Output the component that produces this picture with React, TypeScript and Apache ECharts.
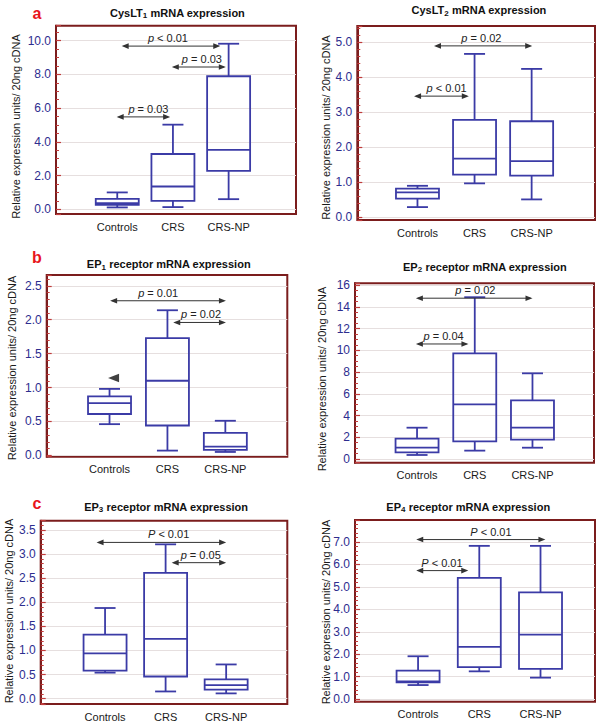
import React, { useEffect, useRef } from 'react';
import * as echarts from 'echarts';

// ---------- data ----------
const groups = ['Controls', 'CRS', 'CRS-NP'];
const yAxisName = 'Relative expression units/ 20ng cDNA';

// box statistics per group: [min, Q1, median, Q3, max]
const cysLT1Stats = [
  [0.11, 0.27, 0.37, 0.62, 1.0],
  [0.13, 0.5, 1.35, 3.28, 5.02],
  [0.6, 2.28, 3.52, 7.89, 9.82],
];
const cysLT2Stats = [
  [0.28, 0.52, 0.7, 0.81, 0.89],
  [0.96, 1.21, 1.67, 2.78, 4.67],
  [0.5, 1.18, 1.6, 2.74, 4.24],
];
const ep1Stats = [
  [0.46, 0.61, 0.77, 0.87, 0.98],
  [0.07, 0.44, 1.1, 1.73, 2.14],
  [0.05, 0.08, 0.13, 0.33, 0.51],
];
const ep2Stats = [
  [0.37, 0.61, 1.04, 1.87, 2.88],
  [0.77, 1.63, 5.03, 9.72, 14.88],
  [1.04, 1.78, 2.88, 5.4, 7.88],
];
const ep3Stats = [
  [0.54, 0.58, 0.94, 1.33, 1.88],
  [0.15, 0.46, 1.24, 2.61, 3.2],
  [0.11, 0.19, 0.28, 0.4, 0.71],
];
const ep4Stats = [
  [0.63, 0.75, 0.79, 1.27, 1.91],
  [1.24, 1.43, 2.33, 5.4, 6.82],
  [0.96, 1.35, 2.87, 4.75, 6.82],
];

// significance brackets: [fromX, toX, y, labelX, pSymbol, rest]
const cysLT1Brackets: [number, number, number, number, string, string][] = [
  [0.08, 1.85, 9.68, 0.91, 'p', ' < 0.01'],
  [0.98, 1.95, 8.44, 1.52, 'p', ' = 0.03'],
  [-0.01, 0.95, 5.48, 0.56, 'p', ' = 0.03'],
];
const cysLT2Brackets: [number, number, number, number, string, string][] = [
  [0.29, 2.01, 4.9, 1.12, 'p', ' = 0.02'],
  [-0.06, 0.9, 3.46, 0.51, 'p', ' < 0.01'],
];
const ep1Brackets: [number, number, number, number, string, string][] = [
  [0.01, 2.01, 2.28, 0.84, 'p', ' = 0.01'],
  [1.1, 2.01, 1.96, 1.58, 'p', ' = 0.02'],
];
const ep2Brackets: [number, number, number, number, string, string][] = [
  [-0.02, 2.0, 14.79, 1.01, 'p', ' = 0.02'],
  [-0.02, 0.89, 10.58, 0.46, 'p', ' = 0.04'],
];
const ep3Brackets: [number, number, number, number, string, string][] = [
  [-0.14, 2.0, 3.24, 1.05, 'P', ' < 0.01'],
  [1.1, 2.0, 2.82, 1.58, 'p', ' = 0.05'],
];
const ep4Brackets: [number, number, number, number, string, string][] = [
  [-0.03, 2.08, 7.1, 1.19, 'P', ' < 0.01'],
  [-0.03, 0.82, 5.72, 0.39, 'P', ' < 0.01'],
];

// marker (left-pointing triangle) in EP1 panel: [x, y]
const ep1Marker = [[0.07, 1.14]];

// titles: [main, subscript, rest]
const titles = [
  ['CysLT', '1', ' mRNA expression'],
  ['CysLT', '2', ' mRNA expression'],
  ['EP', '1', ' receptor mRNA expression'],
  ['EP', '2', ' receptor mRNA expression'],
  ['EP', '3', ' receptor mRNA expression'],
  ['EP', '4', ' receptor mRNA expression'],
];
const panelLetters = ['a', 'b', 'c'];

// ---------- layout / style ----------
const FONT = '"Liberation Sans", Arial, Helvetica, sans-serif';
const FRAME = '#7b1d1d';
const TICK = '#c03c3c';
const LABEL_BLUE = '#2d2d8f';
const BOX = '#3b3ba6';
const GRID_LINE = '#e6dfdf';
const ARROW = '#333333';
const BOX_W = 43;
const CAP_W = 21;

const layouts = [
  { left: 56, top: 25.7, width: 240, height: 188.3, xMin: -1.1, xMax: 3.21, yMin: -0.28, yMax: 10.89, iv: 2, minor: 4, dec: 1, title: [177.5, 12.7], name: [15.5, 126.5] },
  { left: 357.3, top: 26, width: 237.7, height: 194, xMin: -1.054, xMax: 3.11, yMin: -0.09, yMax: 5.47, iv: 1, minor: 5, dec: 1, title: [479, 10], name: [326.2, 127.5] },
  { left: 46.7, top: 275, width: 240.6, height: 181.7, xMin: -1.085, xMax: 3.07, yMin: -0.02, yMax: 2.66, iv: 0.5, minor: 5, dec: 1, title: [168.8, 264], name: [11.7, 368] },
  { left: 355, top: 283.3, width: 239, height: 179.4, xMin: -1.075, xMax: 3.066, yMin: -0.34, yMax: 16.16, iv: 2, minor: 4, dec: 0, title: [485, 266.7], name: [322, 379] },
  { left: 40.7, top: 520.7, width: 246.6, height: 183.3, xMin: -1.063, xMax: 3.01, yMin: -0.11, yMax: 3.69, iv: 0.5, minor: 5, dec: 1, title: [166.2, 506.7], name: [8.7, 611] },
  { left: 355, top: 520, width: 240, height: 181.7, xMin: -1.03, xMax: 2.89, yMin: -0.11, yMax: 7.97, iv: 1, minor: 5, dec: 1, title: [468.3, 506.7], name: [326.2, 612] },
];
const letterPos = [[37, 13], [37, 257], [37, 503]];

const allStats = [cysLT1Stats, cysLT2Stats, ep1Stats, ep2Stats, ep3Stats, ep4Stats];
const allBrackets = [cysLT1Brackets, cysLT2Brackets, ep1Brackets, ep2Brackets, ep3Brackets, ep4Brackets];

function renderBox(params: any, api: any) {
  const x = api.value(0);
  const pMin = api.coord([x, api.value(1)]);
  const yQ1 = api.coord([x, api.value(2)])[1];
  const yMed = api.coord([x, api.value(3)])[1];
  const yQ3 = api.coord([x, api.value(4)])[1];
  const yMax = api.coord([x, api.value(5)])[1];
  const cx = pMin[0];
  const yMin = pMin[1];
  const hw = BOX_W / 2;
  const cw = CAP_W / 2;
  const st = { stroke: BOX, lineWidth: 1.8, fill: 'none' };
  return {
    type: 'group',
    children: [
      { type: 'rect', shape: { x: cx - hw, y: yQ3, width: BOX_W, height: yQ1 - yQ3 }, style: st },
      { type: 'line', shape: { x1: cx - hw, y1: yMed, x2: cx + hw, y2: yMed }, style: st },
      { type: 'line', shape: { x1: cx, y1: yQ3, x2: cx, y2: yMax }, style: st },
      { type: 'line', shape: { x1: cx, y1: yQ1, x2: cx, y2: yMin }, style: st },
      { type: 'line', shape: { x1: cx - cw, y1: yMax, x2: cx + cw, y2: yMax }, style: st },
      { type: 'line', shape: { x1: cx - cw, y1: yMin, x2: cx + cw, y2: yMin }, style: st },
    ],
  };
}

function makeBracketRenderer(brackets: [number, number, number, number, string, string][]) {
  return (params: any, api: any) => {
    const b = brackets[params.dataIndex];
    const p1 = api.coord([b[0], b[2]]);
    const p2 = api.coord([b[1], b[2]]);
    const pl = api.coord([b[3], b[2]]);
    const y = p1[1];
    const L = 7;
    const H = 2.8;
    return {
      type: 'group',
      children: [
        { type: 'line', shape: { x1: p1[0] + 2, y1: y, x2: p2[0] - 2, y2: y }, style: { stroke: ARROW, lineWidth: 1 } },
        { type: 'polygon', shape: { points: [[p1[0], y], [p1[0] + L, y - H], [p1[0] + L, y + H]] }, style: { fill: ARROW } },
        { type: 'polygon', shape: { points: [[p2[0], y], [p2[0] - L, y - H], [p2[0] - L, y + H]] }, style: { fill: ARROW } },
        {
          type: 'text',
          x: pl[0],
          y: y - 8,
          style: {
            text: `{i|${b[4]}}{n|${b[5]}}`,
            align: 'center',
            verticalAlign: 'middle',
            rich: {
              i: { fontStyle: 'italic', fontSize: 11, fontFamily: FONT, fill: '#222' },
              n: { fontSize: 11, fontFamily: FONT, fill: '#222' },
            },
          },
        },
      ],
    };
  };
}

export default function App() {
  const ref = useRef<HTMLDivElement>(null);
  useEffect(() => {
    const chart = echarts.init(ref.current!, null, { renderer: 'svg' });
    const grid: any[] = [];
    const xAxis: any[] = [];
    const yAxis: any[] = [];
    const series: any[] = [];
    const graphic: any[] = [];

    layouts.forEach((L, i) => {
      grid.push({
        left: L.left, top: L.top, width: L.width, height: L.height,
        show: true, borderColor: FRAME, borderWidth: 2, backgroundColor: 'transparent',
      });
      xAxis.push({
        type: 'value', gridIndex: i, min: L.xMin, max: L.xMax, minInterval: 1, maxInterval: 1,
        axisLine: { show: false, onZero: false }, axisTick: { show: false }, splitLine: { show: false },
        axisLabel: {
          margin: 7, color: '#1a1a1a', fontSize: 11, fontFamily: FONT,
          formatter: (v: number) => (Number.isInteger(v) && groups[v] ? groups[v] : ''),
        },
      });
      const iv = L.iv;
      const dec = L.dec;
      yAxis.push({
        type: 'value', gridIndex: i, min: L.yMin, max: L.yMax, minInterval: iv, maxInterval: iv,
        axisLine: { show: true, onZero: false, lineStyle: { color: FRAME, width: 2 } },
        axisTick: { show: true, inside: true, length: 5, lineStyle: { color: TICK, width: 1.2 } },
        minorTick: { show: true, splitNumber: L.minor, length: 3, lineStyle: { color: TICK, width: 1 } },
        splitLine: { show: true, showMinLine: false, showMaxLine: false, lineStyle: { color: GRID_LINE, width: 1 } },
        axisLabel: {
          margin: 5, color: LABEL_BLUE, fontSize: 12, fontFamily: FONT,
          formatter: (v: number) => {
            const k = v / iv;
            if (Math.abs(k - Math.round(k)) > 1e-6) return '';
            return dec ? v.toFixed(dec) : String(Math.round(v));
          },
        },
      });
      series.push({
        type: 'custom', xAxisIndex: i, yAxisIndex: i, z: 3,
        data: allStats[i].map((s, k) => [k, ...s]),
        renderItem: renderBox,
      });
      const br = allBrackets[i];
      series.push({
        type: 'custom', xAxisIndex: i, yAxisIndex: i, z: 4,
        data: br.map((b) => [b[0], b[2], b[1]]),
        renderItem: makeBracketRenderer(br),
      });
      const t = titles[i];
      graphic.push({
        type: 'text', x: L.title[0], y: L.title[1],
        style: {
          text: `{b|${t[0]}}{s|${t[1]}}{b|${t[2]}}`,
          align: 'center', verticalAlign: 'middle',
          rich: {
            b: { fontSize: 11, fontWeight: 'bold', fontFamily: FONT, fill: '#111', lineHeight: 14 },
            s: { fontSize: 8, fontWeight: 'bold', fontFamily: FONT, fill: '#111', lineHeight: 8, verticalAlign: 'bottom' },
          },
        },
      });
      graphic.push({
        type: 'text', x: L.name[0], y: L.name[1], rotation: Math.PI / 2,
        style: { text: yAxisName, align: 'center', verticalAlign: 'middle', fontSize: 11, fontFamily: FONT, fill: '#1a1a1a' },
      });
    });

    series.push({
      type: 'scatter', xAxisIndex: 2, yAxisIndex: 2, z: 5,
      data: ep1Marker, symbol: 'triangle', symbolRotate: 90, symbolSize: [8.5, 11],
      itemStyle: { color: '#111' },
    });

    panelLetters.forEach((l, k) => {
      graphic.push({
        type: 'text', x: letterPos[k][0], y: letterPos[k][1],
        style: { text: l, align: 'center', verticalAlign: 'middle', fontSize: 16, fontWeight: 'bold', fontFamily: FONT, fill: '#e8141c' },
      });
    });

    chart.setOption({
      animation: false,
      backgroundColor: '#ffffff',
      grid, xAxis, yAxis, series, graphic,
    });
    return () => chart.dispose();
  }, []);
  return <div ref={ref} style={{ position: 'absolute', left: 0, top: 0, width: 600, height: 726 }} />;
}
